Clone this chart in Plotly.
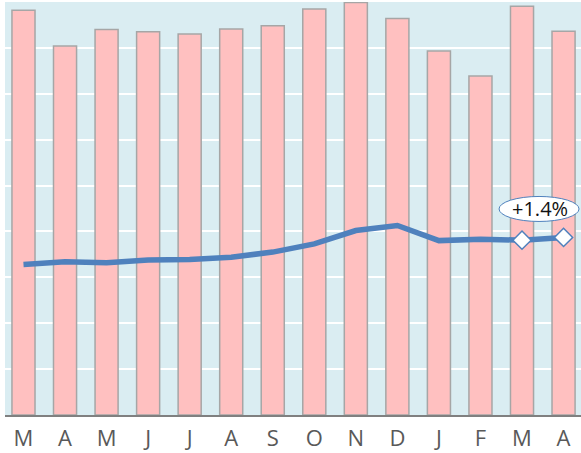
import plotly.graph_objects as go

months = ["M", "A", "M", "J", "J", "A", "S", "O", "N", "D", "J", "F", "M", "A"]
bar_values = [8.82, 8.04, 8.40, 8.35, 8.30, 8.41, 8.48, 8.85, 8.99, 8.64, 7.93, 7.39, 8.91, 8.36]
line_values = [3.28, 3.34, 3.32, 3.38, 3.39, 3.44, 3.55, 3.73, 4.02, 4.13, 3.80, 3.83, 3.81, 3.87]
change_label = "+1.4%"

x = list(range(len(months)))
FONT = "Open Sans, Noto Sans, sans-serif"

fig = go.Figure()
fig.add_trace(go.Bar(
    x=x, y=bar_values, width=0.555,
    marker=dict(color="#FFC0C0", line=dict(color="#A6A6A6", width=1.5)),
    showlegend=False, hoverinfo="skip",
))
fig.add_trace(go.Scatter(
    x=x, y=line_values, mode="lines",
    line=dict(color="#4F81BD", width=5.5, shape="linear"),
    showlegend=False,
))
fig.add_trace(go.Scatter(
    x=x[-2:], y=line_values[-2:], mode="markers",
    marker=dict(symbol="diamond", size=14, color="white", line=dict(color="#4F81BD", width=1.5)),
    showlegend=False,
))

# callout ellipse
fig.add_shape(
    type="circle", xref="x", yref="y",
    xsizemode="pixel", ysizemode="pixel",
    xanchor=12.41, yanchor=4.49,
    x0=-40, x1=40, y0=-12.5, y1=12.5,
    fillcolor="white", line=dict(color="#4F81BD", width=1),
    layer="above",
)
fig.add_annotation(
    x=12.43, y=4.49, xref="x", yref="y", text=change_label, showarrow=False,
    font=dict(family=FONT, size=20, color="#111111"),
)

fig.update_layout(
    width=581, height=453,
    margin=dict(l=5, r=0, t=2, b=38),
    paper_bgcolor="white", plot_bgcolor="#DAEDF2",
    bargap=0.44,
    xaxis=dict(
        range=[-0.445, 13.42], tickmode="array", tickvals=x, ticktext=months,
        showgrid=False, showline=True, linecolor="#808080", linewidth=2,
        ticks="", tickfont=dict(family=FONT, size=22, color="#595959"),
        ticklabelstandoff=3, automargin=False,
        zeroline=False, fixedrange=True,
    ),
    yaxis=dict(
        range=[0, 9], dtick=1, showgrid=True, gridcolor="white", gridwidth=2,
        showticklabels=False, zeroline=False, showline=False, ticks="",
        fixedrange=True, automargin=False,
    ),
)

fig.write_html("out.html", config={"displayModeBar": False},
               post_script="document.body.style.margin='0';")
